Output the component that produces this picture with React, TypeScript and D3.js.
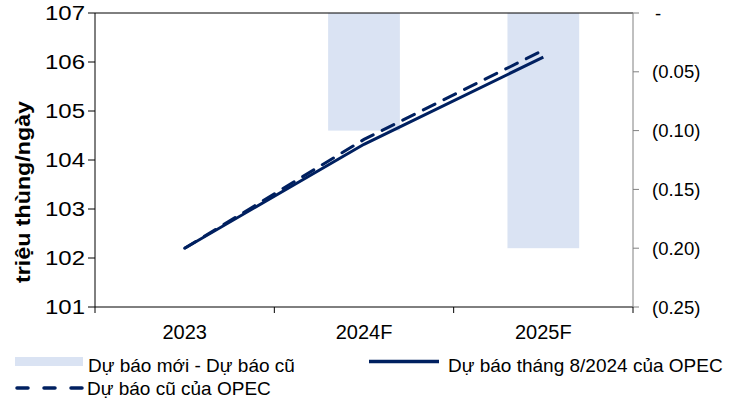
import React from "react";
import * as d3 from "d3";

const categories = ["2023", "2024F", "2025F"];
const newForecast = [102.2, 104.32, 106.1];
const oldForecast = [102.2, 104.42, 106.24];
const diff = [null, -0.1, -0.2];
const leftTicks = [101, 102, 103, 104, 105, 106, 107];
const rightTicks = [0, -0.05, -0.1, -0.15, -0.2, -0.25];
const rightTickLabels = ["-", "(0.05)", "(0.10)", "(0.15)", "(0.20)", "(0.25)"];

const W = 734, H = 403;
const L = 95, R = 633, T = 13, B = 307;
const NAVY = "#002060";
const BAR = "#dae3f3";
const FONT = "Liberation Sans, Arial, sans-serif";

export default function App() {
  const x = d3.scaleBand<string>().domain(categories).range([L, R]).paddingInner(0).paddingOuter(0);
  const yL = d3.scaleLinear().domain([101, 107]).range([B, T]);
  const yR = d3.scaleLinear().domain([-0.25, 0]).range([B, T]);
  const bw = x.bandwidth() * 0.4;
  const cx = (c: string) => (x(c) as number) + x.bandwidth() / 2;
  const line = d3.line<number>().x((_, i) => cx(categories[i])).y((d) => yL(d));

  return (
    <svg width={W} height={H} style={{ position: "absolute", left: 0, top: 0 }} fontFamily={FONT}>
      <rect width={W} height={H} fill="#fff" />
      {diff.map((d, i) =>
        d == null ? null : (
          <rect key={i} x={cx(categories[i]) - bw / 2} y={yR(0)} width={bw} height={yR(d) - yR(0)} fill={BAR} />
        )
      )}
      <path d={line(newForecast) || ""} fill="none" stroke={NAVY} strokeWidth={3} />
      <path d={line(oldForecast) || ""} fill="none" stroke={NAVY} strokeWidth={3} strokeDasharray="13,10" strokeLinecap="round" />
      {/* frame */}
      <line x1={L} x2={R} y1={T} y2={T} stroke="#000" strokeWidth={1} />
      <line x1={L} x2={R} y1={B} y2={B} stroke="#000" strokeWidth={1} />
      <line x1={L} x2={L} y1={T} y2={B} stroke="#000" strokeWidth={1} />
      <line x1={R} x2={R} y1={T} y2={B} stroke="#808080" strokeWidth={1} />
      {leftTicks.map((t) => (
        <g key={t}>
          <line x1={L - 7} x2={L} y1={yL(t)} y2={yL(t)} stroke="#000" />
          <text x={85} y={yL(t)} dy="0.36em" textAnchor="end" fontSize={20} textLength={40} lengthAdjust="spacingAndGlyphs" fill="#000">{t}</text>
        </g>
      ))}
      {rightTicks.map((t, i) => (
        <g key={i}>
          <line x1={R} x2={R + 6} y1={yR(t)} y2={yR(t)} stroke="#808080" />
          <text x={i === 0 ? 655 : 652} y={yR(t)} dy="0.36em" textAnchor="start" fontSize={18.5} fill="#000">{rightTickLabels[i]}</text>
        </g>
      ))}
      {[...categories.map((c) => x(c) as number), R].map((v, i) => (
        <line key={i} x1={v} x2={v} y1={B} y2={B + 6} stroke="#000" />
      ))}
      {categories.map((c) => (
        <text key={c} x={cx(c)} y={339} textAnchor="middle" fontSize={20} fill="#000">{c}</text>
      ))}
      <text transform={`translate(30,192) rotate(-90)`} textAnchor="middle" fontSize={20} fontWeight="bold" textLength={182} lengthAdjust="spacingAndGlyphs" fill="#000">triệu thùng/ngày</text>
      {/* legend */}
      <rect x={15} y={357} width={68} height={9} fill={BAR} />
      <text x={88} y={372} fontSize={19} fill="#000">Dự báo mới - Dự báo cũ</text>
      <line x1={369} x2={439} y1={361.5} y2={361.5} stroke={NAVY} strokeWidth={3.5} />
      <text x={448} y={372} fontSize={19} fill="#000">Dự báo tháng 8/2024 của OPEC</text>
      <line x1={17} x2={83} y1={388} y2={388} stroke={NAVY} strokeWidth={3.5} strokeDasharray="11,16" strokeLinecap="round" />
      <text x={87} y={395} fontSize={19} fill="#000">Dự báo cũ của OPEC</text>
    </svg>
  );
}
